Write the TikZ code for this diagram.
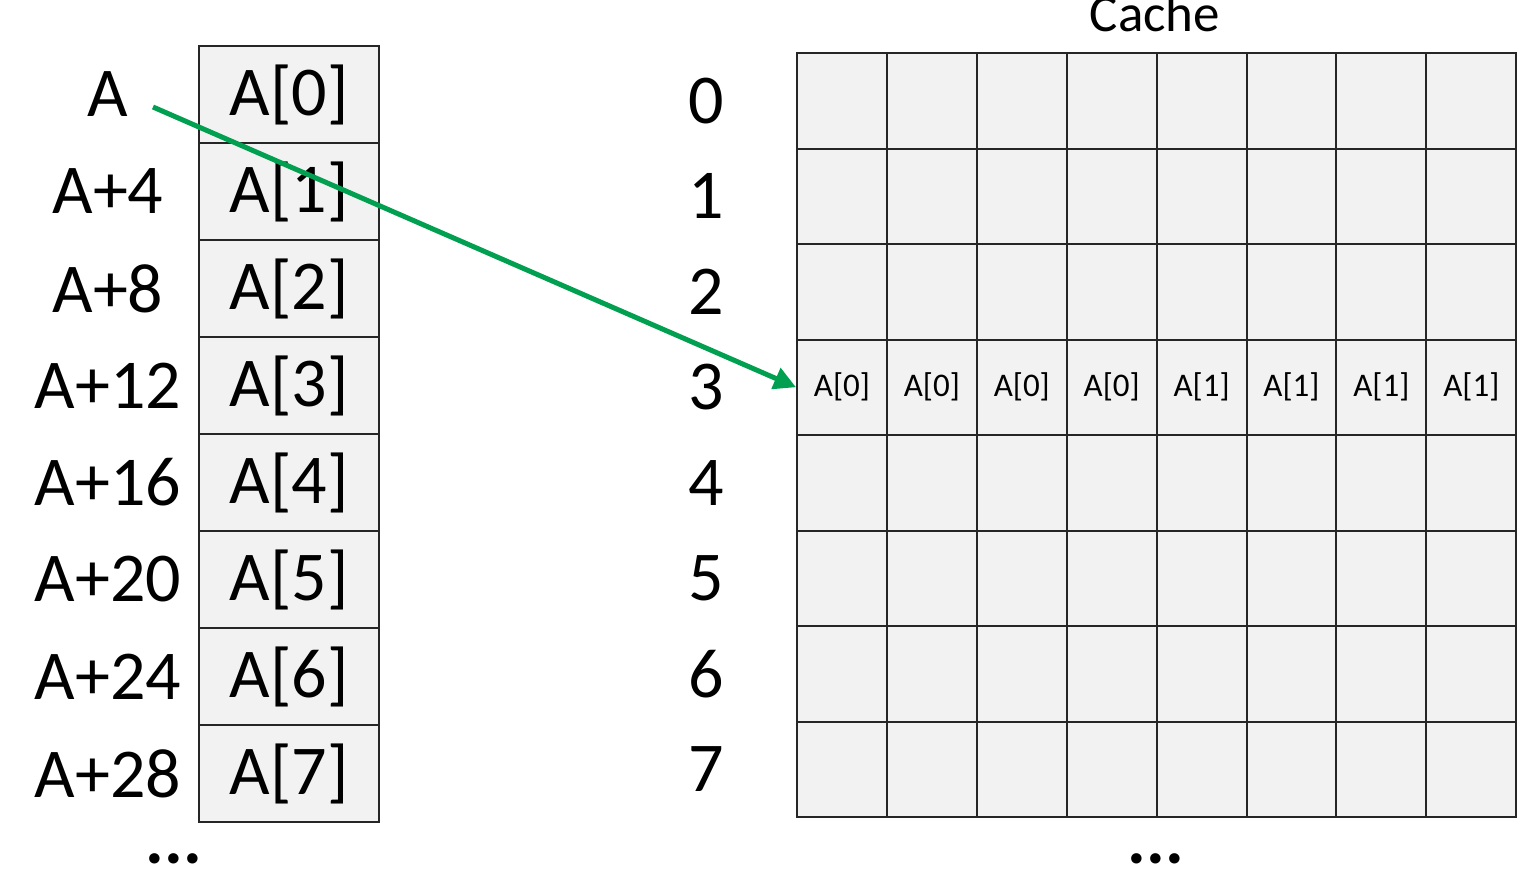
\documentclass[tikz,border=0pt]{standalone}
\usepackage{fontspec}
\setmainfont{Carlito}
\usepackage{tikz}
\usetikzlibrary{arrows.meta,positioning,calc}
\definecolor{cellgray}{HTML}{F2F2F2}
\definecolor{arrowgreen}{HTML}{00A050}

\tikzset{
  biglabel/.style={inner sep=0pt, font=\fontsize{35}{40}\selectfont},
  memcell/.style={draw=black!85, line width=1pt, fill=cellgray, inner sep=0pt,
    minimum width=90pt, minimum height=48.5pt, font=\fontsize{35}{40}\selectfont},
  cachecell/.style={draw=black!85, line width=1pt, fill=cellgray, inner sep=0pt,
    minimum width=44.95pt, minimum height=47.75pt, font=\fontsize{16.5}{20}\selectfont},
  dots/.style={inner sep=0pt, anchor=base, font=\bfseries\fontsize{35}{40}\selectfont}
}

\begin{document}
\begin{tikzpicture}[x=0.5pt, y=-0.5pt]
  \useasboundingbox (0,0) rectangle (1528,873);

  % memory
  \foreach \i/\addr in {0/A,1/A+4,2/A+8,3/A+12,4/A+16,5/A+20,6/A+24,7/A+28} {
    \node (m\i) [memcell] at (289,{94.5+97*\i}) {A[\i]};
    \node (addr\i) [biglabel] at (108,{94.5+97*\i}) {\addr};
  }
  \node (mdots) [dots] at (174,863) {...};

  % cache
  \node (title) [inner sep=0pt, anchor=base, font=\fontsize{26.5}{30}\selectfont] at (1155,31) {Cache};
  \foreach \r in {0,...,7} {
    \node (idx\r) [biglabel] at (706,{100.75+95.5*\r}) {\r};
    \foreach \c in {0,...,7}
      \node (c\r-\c) [cachecell] at ({842+89.9*\c},{100.75+95.5*\r})
        {\ifnum\r=3 A[\ifnum\c<4 0\else 1\fi]\fi};
  }
  \node (cdots) [dots] at (1156,863) {...};

  \coordinate (astart) at (153,107);
  \draw [-{Triangle[length=11pt,width=11pt]}, line width=2.5pt, arrowgreen]
    (astart) -- (c3-0.west);

\end{tikzpicture}
\end{document}
